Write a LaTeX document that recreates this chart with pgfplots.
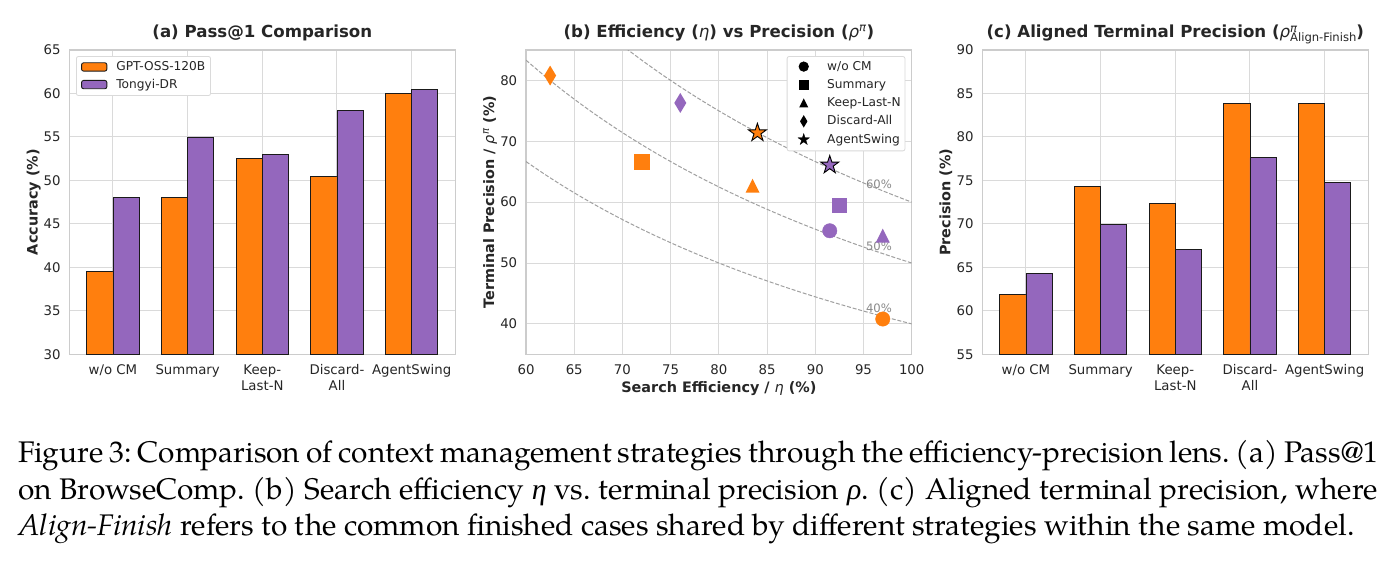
\documentclass[border=0pt]{standalone}
\usepackage{pgfplots}
\pgfplotsset{compat=1.18}
\usepackage{fontspec}
\setmainfont{DejaVu Sans}
\newfontfamily\capfont{texgyrepagella}[Extension=.otf,UprightFont=*-regular,ItalicFont=*-italic,BoldFont=*-bold,BoldItalicFont=*-bolditalic]
\newfontfamily\grkfont{Liberation Serif}

\definecolor{tOrange}{HTML}{FF7F0E}
\definecolor{tPurple}{HTML}{9467BD}
\definecolor{txt}{HTML}{262626}
\definecolor{gridc}{HTML}{DADADA}
\definecolor{spinec}{HTML}{CCCCCC}
\definecolor{baredge}{HTML}{1A1A1A}
\definecolor{curvec}{HTML}{A0A0A0}
\definecolor{pctc}{HTML}{8A8A8A}

\pgfdeclareplotmark{mtri}{%
  \pgfpathmoveto{\pgfpoint{0pt}{\pgfplotmarksize}}%
  \pgfpathlineto{\pgfpoint{-\pgfplotmarksize}{-\pgfplotmarksize}}%
  \pgfpathlineto{\pgfpoint{\pgfplotmarksize}{-\pgfplotmarksize}}%
  \pgfpathclose\pgfusepathqfill}
\pgfdeclareplotmark{mthd}{%
  \pgfpathmoveto{\pgfpoint{0pt}{\pgfplotmarksize}}%
  \pgfpathlineto{\pgfpoint{0.6\pgfplotmarksize}{0pt}}%
  \pgfpathlineto{\pgfpoint{0pt}{-\pgfplotmarksize}}%
  \pgfpathlineto{\pgfpoint{-0.6\pgfplotmarksize}{0pt}}%
  \pgfpathclose\pgfusepathqfill}
\pgfdeclareplotmark{mstar}{%
  \pgfpathmoveto{\pgfpointpolar{90}{\pgfplotmarksize}}%
  \pgfpathlineto{\pgfpointpolar{126}{0.382\pgfplotmarksize}}%
  \pgfpathlineto{\pgfpointpolar{162}{\pgfplotmarksize}}%
  \pgfpathlineto{\pgfpointpolar{198}{0.382\pgfplotmarksize}}%
  \pgfpathlineto{\pgfpointpolar{234}{\pgfplotmarksize}}%
  \pgfpathlineto{\pgfpointpolar{270}{0.382\pgfplotmarksize}}%
  \pgfpathlineto{\pgfpointpolar{306}{\pgfplotmarksize}}%
  \pgfpathlineto{\pgfpointpolar{342}{0.382\pgfplotmarksize}}%
  \pgfpathlineto{\pgfpointpolar{18}{\pgfplotmarksize}}%
  \pgfpathlineto{\pgfpointpolar{54}{0.382\pgfplotmarksize}}%
  \pgfpathclose\pgfusepathqfillstroke}

\pgfplotsset{
  mybase/.style={
    scale only axis, width=386pt, height=304.3pt,
    axis line style={draw=spinec, line width=1.25pt},
    major tick length=0pt,
    xmajorgrids, ymajorgrids,
    grid style={draw=gridc, line width=1pt},
    tick label style={font=\fontsize{13.3}{16}\selectfont, text=txt},
    yticklabel style={anchor=east, inner sep=0pt, xshift=-8.6pt},
    xticklabel style={anchor=base, inner sep=0pt, yshift=-19.7pt},
    /pgf/number format/assume math mode=true,
  },
  mybars/.style={
    mybase,
    ybar=0pt, bar width=0.35,
    xmin=-0.585, xmax=4.585,
    xtick={0,1,2,3,4},
    xticklabels={w/o CM, Summary, {\begin{tabular}[t]{@{}c@{}}Keep-\\Last-N\end{tabular}}, {\begin{tabular}[t]{@{}c@{}}Discard-\\All\end{tabular}}, AgentSwing},
    legend image code/.code={\draw[##1] (0.5pt,-0.7pt) rectangle (25.8pt,7.6pt);},
  },
  mkleg/.style={
    legend image code/.code={\path[draw=none,fill=none] (-12.9pt,3.6pt) rectangle (8pt,3.7pt); \draw[##1] plot coordinates {(0pt,3.6pt)};},
  },
  obar/.style={fill=tOrange, draw=baredge, line width=0.9pt},
  pbar/.style={fill=tPurple, draw=baredge, line width=0.9pt},
  curve/.style={draw=curvec, line width=1pt, dash pattern=on 4pt off 1.8pt, smooth, no marks, forget plot},
}

\begin{document}
\begin{tikzpicture}
\fill[white] (0pt,0pt) rectangle (1394pt,-571pt);
\path[use as bounding box] (0pt,0pt) rectangle (1394pt,-571pt);

% ---------------- (a) ----------------
\begin{axis}[mybars,
  at={(69.3pt,-354.3pt)}, anchor=south west,
  ymin=30, ymax=65, ytick={30,35,...,65},
  legend cell align=left,
  legend style={at={(axis description cs:0.0174,0.980)}, anchor=north west,
    draw=gridc, fill=white, rounded corners=2pt, line width=0.8pt,
    inner xsep=4.7pt, inner ysep=4.1pt, row sep=4.45pt,
    font=\fontsize{12.2}{14}\selectfont, text=txt,
    nodes={inner sep=0.5pt, text height=9.3pt, text depth=2.9pt},
    cells={anchor=base west},
    /tikz/every odd column/.style={column sep=8.5pt}},
]
\addplot[obar] coordinates {(0,39.5) (1,48) (2,52.5) (3,50.5) (4,60)};
\addlegendentry{GPT-OSS-120B}
\addplot[pbar] coordinates {(0,48) (1,55) (2,53) (3,58) (4,60.5)};
\addlegendentry{Tongyi-DR}
\end{axis}

% ---------------- (b) ----------------
\begin{axis}[mybase, mkleg,
  at={(526pt,-354.3pt)}, anchor=south west, width=385.7pt,
  xmin=60, xmax=100, ymin=35, ymax=85,
  xtick={60,65,...,100}, ytick={40,50,...,80},
  legend cell align=left,
  legend style={at={(axis description cs:0.676,0.980)}, anchor=north west,
    draw=gridc, fill=white, rounded corners=2pt, line width=0.8pt,
    inner xsep=3.7pt, inner ysep=4.2pt, row sep=5.15pt,
    font=\fontsize{12.2}{14}\selectfont, text=txt,
    nodes={inner sep=0.5pt, text height=9pt, text depth=3pt},
    cells={anchor=base west},
    /tikz/every odd column/.style={column sep=15pt}},
]
% iso-Pass@1 reference curves (rho = c / eta)
\addplot[curve] coordinates {(68,88.235) (70,85.714) (72,83.333) (74,81.081) (76,78.947) (78,76.923) (80,75) (82,73.171) (84,71.429) (86,69.767) (88,68.182) (90,66.667) (92,65.217) (94,63.830) (96,62.5) (98,61.224) (100,60)};
\addplot[curve] coordinates {(60,83.333) (62,80.645) (64,78.125) (66,75.758) (68,73.529) (70,71.429) (72,69.444) (74,67.568) (76,65.789) (78,64.103) (80,62.5) (82,60.976) (84,59.524) (86,58.140) (88,56.818) (90,55.556) (92,54.348) (94,53.191) (96,52.083) (98,51.020) (100,50)};
\addplot[curve] coordinates {(60,66.667) (62,64.516) (64,62.5) (66,60.606) (68,58.824) (70,57.143) (72,55.556) (74,54.054) (76,52.632) (78,51.282) (80,50) (82,48.780) (84,47.619) (86,46.512) (88,45.455) (90,44.444) (92,43.478) (94,42.553) (96,41.667) (98,40.816) (100,40)};
% GPT-OSS-120B (orange)
\addplot[only marks, mark=*, mark size=7.2pt, draw=tOrange, fill=tOrange, forget plot] coordinates {(97,40.8)};
\addplot[only marks, mark=square*, mark size=7.3pt, draw=tOrange, fill=tOrange, forget plot] coordinates {(72,66.6)};
\addplot[only marks, mark=mtri, mark size=7pt, fill=tOrange, forget plot] coordinates {(83.5,62.7)};
\addplot[only marks, mark=mthd, mark size=10pt, fill=tOrange, forget plot] coordinates {(62.5,80.8)};
\addplot[only marks, mark=mstar, mark size=9.5pt, fill=tOrange, draw=black, line width=0.9pt, forget plot] coordinates {(84,71.4)};
% Tongyi-DR (purple)
\addplot[only marks, mark=*, mark size=7.2pt, draw=tPurple, fill=tPurple, forget plot] coordinates {(91.5,55.3)};
\addplot[only marks, mark=square*, mark size=7.3pt, draw=tPurple, fill=tPurple, forget plot] coordinates {(92.5,59.5)};
\addplot[only marks, mark=mtri, mark size=7pt, fill=tPurple, forget plot] coordinates {(97,54.5)};
\addplot[only marks, mark=mthd, mark size=10pt, fill=tPurple, forget plot] coordinates {(76,76.3)};
\addplot[only marks, mark=mstar, mark size=9.5pt, fill=tPurple, draw=black, line width=0.9pt, forget plot] coordinates {(91.5,66.1)};
% legend (black markers)
\addlegendimage{only marks, mark=*, mark size=4.7pt, draw=black, fill=black}
\addlegendentry{w/o CM}
\addlegendimage{only marks, mark=square*, mark size=4.6pt, draw=black, fill=black}
\addlegendentry{Summary}
\addlegendimage{only marks, mark=mtri, mark size=4.6pt, fill=black}
\addlegendentry{Keep-Last-N}
\addlegendimage{only marks, mark=mthd, mark size=6.2pt, fill=black}
\addlegendentry{Discard-All}
\addlegendimage{only marks, mark=mstar, mark size=6pt, fill=black, draw=black, line width=0.3pt}
\addlegendentry{AgentSwing}
\node[font=\fontsize{11.6}{14}\selectfont, text=pctc] at (axis cs:96.6,62.9) {60\%};
\node[font=\fontsize{11.6}{14}\selectfont, text=pctc] at (axis cs:96.6,52.7) {50\%};
\node[font=\fontsize{11.6}{14}\selectfont, text=pctc] at (axis cs:96.6,42.5) {40\%};
\end{axis}

% ---------------- (c) ----------------
\begin{axis}[mybars,
  at={(982.3pt,-354.3pt)}, anchor=south west,
  ymin=55, ymax=90, ytick={55,60,...,90},
]
\addplot[obar] coordinates {(0,61.9) (1,74.3) (2,72.4) (3,83.8) (4,83.8)};
\addplot[pbar] coordinates {(0,64.3) (1,69.9) (2,67.1) (3,77.6) (4,74.8)};
\end{axis}

% ---------------- titles and labels ----------------
\begin{scope}[every node/.style={text=txt}]
\node[anchor=base, font=\bfseries\fontsize{16.6}{20}\selectfont] at (262.3pt,-37.7pt) {(a) Pass@1 Comparison};
\node[anchor=base, font=\bfseries\fontsize{16.6}{20}\selectfont] at (718.9pt,-37.7pt) {(b) Efficiency ({\mdseries\itshape η}) vs Precision ({\mdseries\itshape ρ\textsuperscript{π}})};
\node[anchor=base, font=\bfseries\fontsize{16.6}{20}\selectfont] at (1175.3pt,-37.7pt) {(c) Aligned Terminal Precision ({\mdseries\itshape ρ\rlap{\raisebox{5pt}{\fontsize{11.6}{12}\selectfont π}}\upshape\raisebox{-3.4pt}{\fontsize{11.6}{12}\selectfont Align-Finish}})};

\node[rotate=90, anchor=base, font=\bfseries\fontsize{14.4}{17}\selectfont] at (37.7pt,-202.2pt) {Accuracy (\%)};
\node[rotate=90, anchor=base, font=\bfseries\fontsize{14.4}{17}\selectfont] at (494pt,-202.2pt) {Terminal Precision / {\mdseries\itshape ρ\textsuperscript{π}} (\%)};
\node[rotate=90, anchor=base, font=\bfseries\fontsize{14.4}{17}\selectfont] at (950.3pt,-202.2pt) {Precision (\%)};
\node[anchor=base, font=\bfseries\fontsize{14.4}{17}\selectfont] at (718.9pt,-392.5pt) {Search Efficiency / {\mdseries\itshape η} (\%)};
\end{scope}

% ---------------- caption ----------------
\begin{scope}[every node/.style={anchor=base west, inner sep=0pt, text=black, font=\capfont\fontsize{29.8}{36.5}\selectfont\frenchspacing}]
\node at (18pt,-462.5pt) {\makebox[1360pt][s]{Figure 3: Comparison of context management strategies through the efficiency-precision lens. (a) Pass@1}};
\node at (18pt,-499pt) {\makebox[1360pt][s]{on BrowseComp. (b) Search efficiency {\grkfont\itshape η} vs. terminal precision {\grkfont\itshape ρ}. (c) Aligned terminal precision, where}};
\node at (18pt,-535.5pt) {\textit{Align-Finish} refers to the common finished cases shared by different strategies within the same model.};
\end{scope}
\end{tikzpicture}
\end{document}
